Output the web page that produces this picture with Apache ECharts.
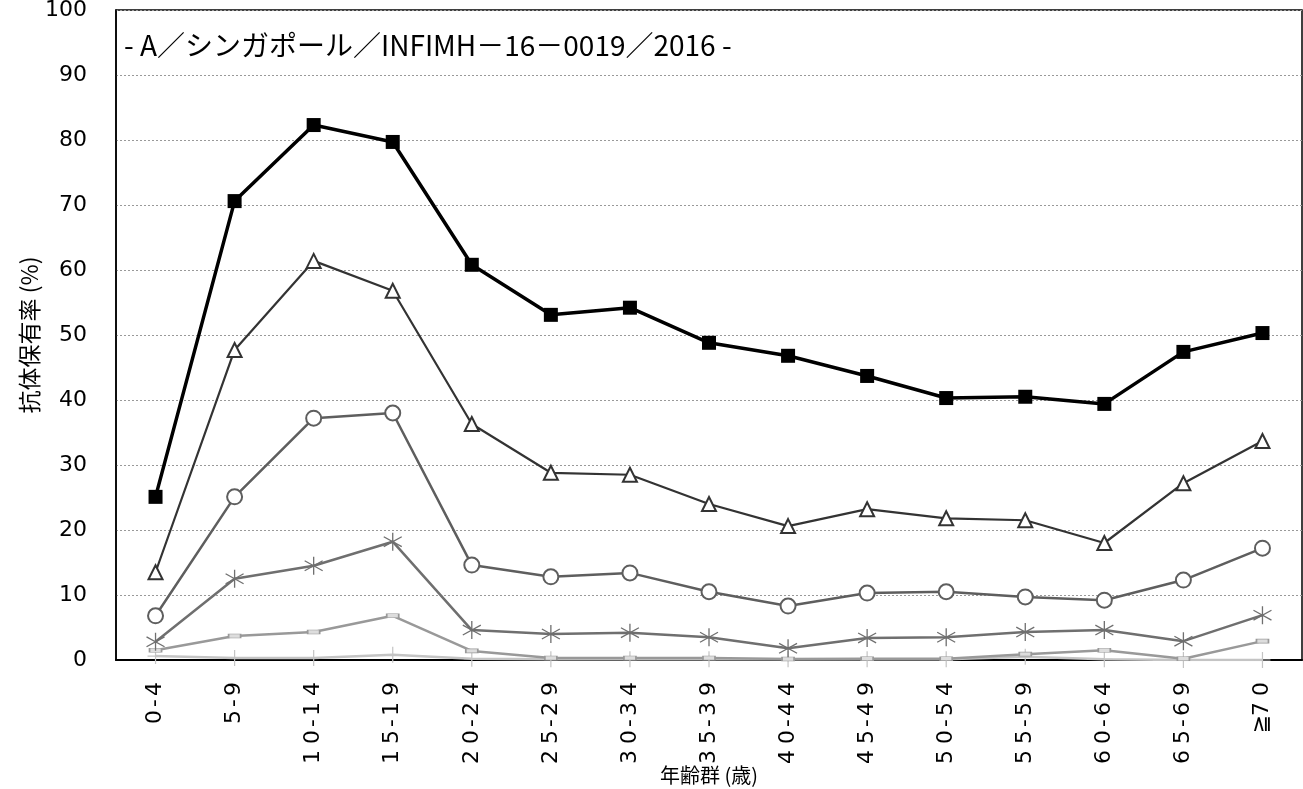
<!DOCTYPE html>
<html>
<head>
<meta charset="utf-8">
<script src="https://cdn.jsdelivr.net/npm/echarts@6/dist/echarts.min.js"></script>
<style>
html,body{margin:0;padding:0;background:#fff;}
#c{width:1303px;height:789px;}
</style>
</head>
<body>
<div id="c"></div>
<script>
var categories = ['0-4','5-9','10-14','15-19','20-24','25-29','30-34','35-39','40-44','45-49','50-54','55-59','60-64','65-69','≧70'];
var yTicks = [0,10,20,30,40,50,60,70,80,90,100];
var titleText = '- A／シンガポール／INFIMH－16－0019／2016 -';
var yName = '抗体保有率 (%)';
var xName = '年齢群 (歳)';

var sSquare   = [25.1,70.6,82.3,79.7,60.8,53.1,54.2,48.8,46.8,43.7,40.3,40.5,39.4,47.4,50.3];
var sTriangle = [13.5,47.7,61.4,56.8,36.3,28.8,28.5,24.0,20.6,23.2,21.8,21.5,18.0,27.2,33.7];
var sCircle   = [6.8,25.1,37.2,38.0,14.6,12.8,13.4,10.5,8.3,10.3,10.5,9.7,9.2,12.3,17.2];
var sStar     = [2.8,12.5,14.5,18.2,4.6,4.0,4.2,3.5,1.8,3.4,3.5,4.3,4.6,2.9,6.9];
var sDash     = [1.5,3.7,4.3,6.8,1.4,0.3,0.3,0.3,0.15,0.2,0.2,0.9,1.5,0.2,2.9];
var sPlus     = [0.6,0.3,0.3,0.8,0.2,0.1,0.1,0.1,0.1,0.1,0.1,0.5,0.1,0,0];

var chart = echarts.init(document.getElementById('c'), null, {renderer:'canvas'});
var starPath = 'path://M0,-1L0,1M-0.9,-0.55L0.9,0.55M-0.9,0.55L0.9,-0.55';
var plusPath = 'path://M0,-1L0,1M-1,0L1,0';

var FONT = '"DejaVu Sans"';
function splitLabel(v){
  return v.split('').map(function(c){
    if(c === '-') return '{h|-}';
    if(c === '≧') return '{g|≧}';
    return '{d|' + c + '}';
  }).join('');
}
var cellBase = {fontFamily:FONT,fontSize:22,color:'#000',align:'center'};

chart.setOption({
  animation:false,
  backgroundColor:'#fff',
  grid:{left:116,top:10,width:1186,height:650,show:true,borderColor:'#000',borderWidth:1.5,
        backgroundColor:'transparent',containLabel:false,outerBoundsMode:'none'},
  graphic:[{type:'text',left:124,top:31,style:{text:titleText,font:'28px "Noto Sans CJK JP"',fill:'#000'}}],
  xAxis:{
    type:'category',data:categories,boundaryGap:true,
    name:xName,nameLocation:'middle',nameGap:105,nameMoveOverlap:false,
    nameTextStyle:{fontFamily:'Noto Sans CJK JP',fontSize:20,color:'#000',verticalAlign:'top'},
    axisLine:{show:true,lineStyle:{color:'#000',width:2}},
    axisTick:{show:false},
    axisLabel:{rotate:90,margin:19,formatter:splitLabel,
      rich:{
        d:Object.assign({width:20},cellBase),
        h:Object.assign({width:8},cellBase),
        g:Object.assign({width:10},cellBase)
      }}
  },
  yAxis:{
    type:'value',min:0,max:100,interval:10,
    name:yName,nameLocation:'middle',nameGap:75,nameRotate:90,nameMoveOverlap:false,
    nameTextStyle:{fontFamily:'Noto Sans CJK JP',fontSize:23,color:'#000'},
    axisLine:{show:true,lineStyle:{color:'#000',width:1.5}},
    axisTick:{show:false},
    axisLabel:{margin:29,fontFamily:FONT,fontSize:22,color:'#000'},
    splitLine:{show:true,lineStyle:{color:'#999',type:[2,2],width:1}}
  },
  series:[
    {type:'line',data:sPlus,symbol:plusPath,symbolSize:16,z:2,
     lineStyle:{color:'#c4c4c4',width:2.5},itemStyle:{color:'none',borderColor:'#c4c4c4',borderWidth:1.2}},
    {type:'line',data:sDash,symbol:'rect',symbolSize:[12,4],z:3,
     lineStyle:{color:'#999',width:2.5},itemStyle:{color:'#ddd',borderColor:'#999',borderWidth:1}},
    {type:'line',data:sStar,symbol:starPath,symbolSize:18,z:4,
     lineStyle:{color:'#6f6f6f',width:2.5},itemStyle:{color:'none',borderColor:'#6f6f6f',borderWidth:1.3}},
    {type:'line',data:sCircle,symbol:'emptyCircle',symbolSize:15,z:5,
     lineStyle:{color:'#5e5e5e',width:2.5},itemStyle:{color:'#5e5e5e',borderColor:'#5e5e5e',borderWidth:1}},
    {type:'line',data:sTriangle,symbol:'emptyTriangle',symbolSize:14,z:6,
     lineStyle:{color:'#333',width:2.2},itemStyle:{color:'#333',borderColor:'#333',borderWidth:1}},
    {type:'line',data:sSquare,symbol:'rect',symbolSize:14,z:7,
     lineStyle:{color:'#000',width:3.5},itemStyle:{color:'#000'}}
  ]
});
</script>
</body>
</html>
